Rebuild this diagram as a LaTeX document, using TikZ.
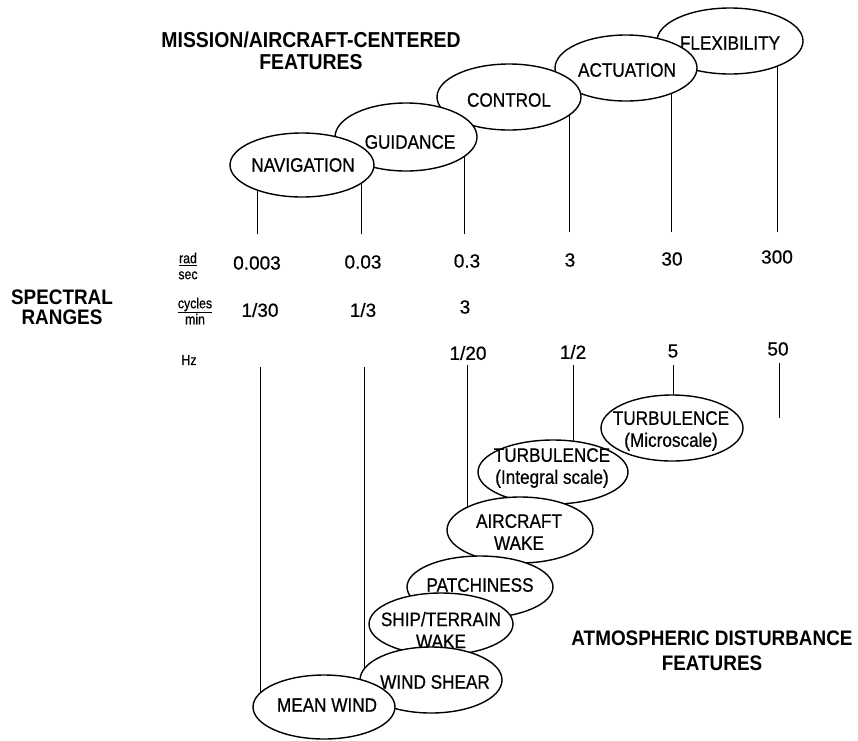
\documentclass[tikz,border=0pt]{standalone}
\usepackage{fontspec}
\setmainfont{Liberation Sans}
\newfontfamily\labelfont[FakeStretch=0.88,FakeBold=0.6]{Liberation Sans}
\newfontfamily\numfont[FakeBold=0.6]{Liberation Sans}
\newfontfamily\headfont[FakeStretch=0.9]{Liberation Sans}
\newfontfamily\unitfont[FakeStretch=0.85,FakeBold=0.5]{Liberation Sans}
\usetikzlibrary{shapes.geometric,backgrounds}

\begin{document}
\begin{tikzpicture}[x=1pt,y=-1pt,
  feat/.style={ellipse, draw, line width=1.4pt, fill=white, inner sep=0pt},
  ftext/.style={font=\labelfont\fontsize{19.5}{22}\selectfont, align=center, inner sep=0pt},
  head/.style={font=\headfont\bfseries\fontsize{21}{22}\selectfont, align=center, inner sep=0pt},
  num/.style={font=\numfont\fontsize{19}{22}\selectfont, inner sep=0pt},
  unit/.style={font=\unitfont\fontsize{14.5}{16}\selectfont, align=center, inner sep=0pt},
  tick/.style={line width=1.1pt}]

% frame of the page
\useasboundingbox (0,0) rectangle (858,740);

% ---- headings ----
\node[head, font=\headfont\bfseries\fontsize{21.6}{22}\selectfont] (mission) at (311,51) {MISSION/AIRCRAFT-CENTERED\\FEATURES};
\node[head] (atmos) at (712,651) {ATMOSPHERIC DISTURBANCE\\[3pt]FEATURES};
\node[head] (spectral) at (62,307) {SPECTRAL\\[-2pt]RANGES};

% ---- unit labels ----
\node[unit] (radsec) at (188,266) {\underline{rad}\\sec};
\node[unit] (cycmin) at (195,311) {\underline{cycles}\\min};
\node[unit] (hz) at (189,360) {Hz};

% ---- spectral values ----
\node[num] (v1) at (257,263) {0.003};
\node[num] (v2) at (363,262) {0.03};
\node[num] (v3) at (467,261) {0.3};
\node[num] (v4) at (570,260) {3};
\node[num] (v5) at (672,259) {30};
\node[num] (v6) at (777,257) {300};
\node[num] (c1) at (260,310) {1/30};
\node[num] (c2) at (363,310) {1/3};
\node[num] (c3) at (465,307) {3};
\node[num] (f1) at (468,353) {1/20};
\node[num] (f2) at (573,352) {1/2};
\node[num] (f3) at (673,351) {5};
\node[num] (f4) at (778,349) {50};

% ---- mission / aircraft features (right to left, left ones on top) ----
\node[feat, minimum width=146pt, minimum height=66pt] (flex) at (730,41) {};
\node[ftext] (flext) at (730,43) {FLEXIBILITY};
\node[feat, minimum width=142pt, minimum height=66pt] (act) at (626,68) {};
\node[ftext] (actt) at (627,70) {ACTUATION};
\node[feat, minimum width=144pt, minimum height=66pt] (ctrl) at (509,97) {};
\node[ftext] (ctrlt) at (509,100) {CONTROL};
\node[feat, minimum width=142pt, minimum height=68pt] (guid) at (406,137) {};
\node[ftext] (guidt) at (410,142) {GUIDANCE};
\node[feat, minimum width=144pt, minimum height=64pt] (nav) at (302,165) {};
\node[ftext] (navt) at (303,165) {NAVIGATION};

% ---- atmospheric disturbance features (upper right first) ----
\node[feat, minimum width=142pt, minimum height=66pt] (micro) at (672,428) {};
\node[ftext] (microt) at (671,431) {TURBULENCE\\(Microscale)};
\node[feat, minimum width=150pt, minimum height=64pt] (integ) at (553,472) {};
\node[ftext] (integt) at (552,468) {TURBULENCE\\(Integral scale)};
\node[feat, minimum width=146pt, minimum height=66pt] (awake) at (520,530) {};
\node[ftext] (awaket) at (519,532) {AIRCRAFT\\WAKE};
\node[feat, minimum width=146pt, minimum height=62pt] (patch) at (480,587) {};
\node[ftext] (patcht) at (480,585) {PATCHINESS};
\node[feat, minimum width=144pt, minimum height=62pt] (ship) at (441,624) {};
\node[ftext] (shipt) at (441,630) {SHIP/TERRAIN\\WAKE};
\node[feat, minimum width=142pt, minimum height=66pt] (shear) at (431,680) {};
\node[ftext] (sheart) at (435,682) {WIND SHEAR};
\node[feat, minimum width=142pt, minimum height=64pt] (mean) at (324,707) {};
\node[ftext] (meant) at (327,705) {MEAN WIND};

% ---- free ends of the range lines ----
\coordinate (r1) at (257,234);
\coordinate (r2) at (361,234);
\coordinate (r3) at (464,234);
\coordinate (r4) at (569,232);
\coordinate (r5) at (671,232);
\coordinate (r6) at (777,232);
\coordinate (h1) at (260,367);
\coordinate (h2) at (364,367);
\coordinate (h3) at (467,365);
\coordinate (h4) at (573,365);
\coordinate (h5) at (673,365);
\coordinate (h6) at (779,363);
\coordinate (h6e) at (779,418);

% ---- range lines, behind the ellipses ----
\begin{scope}[on background layer, tick]
  \draw (r1) -- (r1 |- nav.center);
  \draw (r2) -- (r2 |- guid.center);
  \draw (r3) -- (r3 |- guid.center);
  \draw (r4) -- (r4 |- ctrl.center);
  \draw (r5) -- (r5 |- act.center);
  \draw (r6) -- (r6 |- flex.center);
  \draw (h1) -- (h1 |- mean.center);
  \draw (h2) -- (h2 |- shear.center);
  \draw (h3) -- (h3 |- awake.center);
  \draw (h4) -- (h4 |- integ.center);
  \draw (h5) -- (h5 |- micro.center);
  \draw (h6) -- (h6e);
\end{scope}
\end{tikzpicture}
\end{document}
